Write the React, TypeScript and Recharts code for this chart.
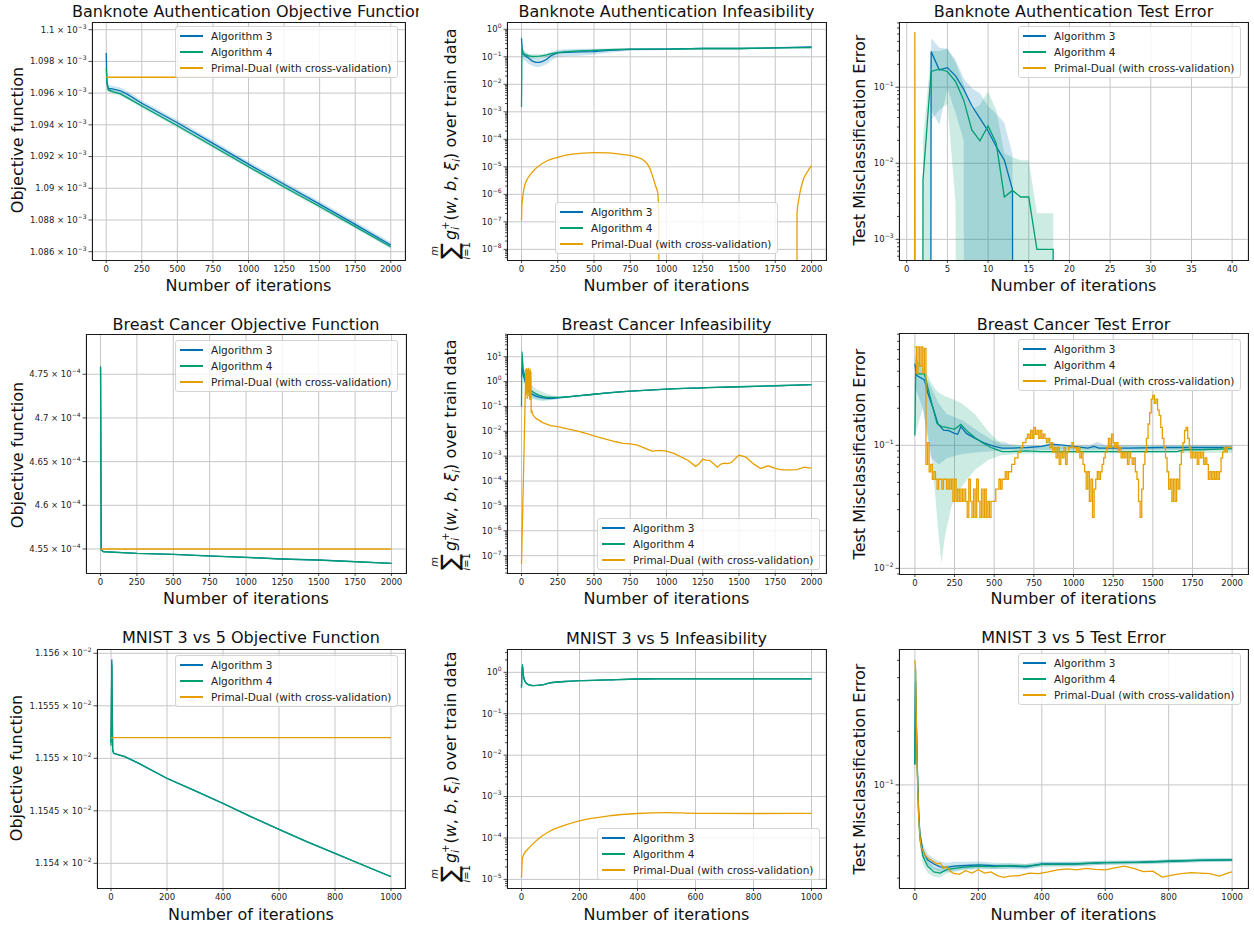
import React from 'react';
import { ComposedChart, Line, Area, XAxis, YAxis, CartesianGrid } from 'recharts';

const BLUE = '#0072B2';
const GREEN = '#009E73';
const ORANGE = '#E69F00';
// an exact 0 on a log axis: matplotlib sends it off the bottom of the plot
const ZERO = 1e-100;

const seriesNames = ['Algorithm 3', 'Algorithm 4', 'Primal-Dual (with cross-validation)'];
const seriesColors = [BLUE, GREEN, ORANGE];

const ticks2000 = [0, 250, 500, 750, 1000, 1250, 1500, 1750, 2000];
const ticks1000 = [0, 200, 400, 600, 800, 1000];
const ticks40 = [0, 5, 10, 15, 20, 25, 30, 35, 40];

// ---------- Banknote: objective ----------
const bankObjIters = [0, 5, 15, 50, 100, 150, 250, 500, 750, 1000, 1250, 1500, 1750, 2000];
const bankObjAlg3 = [1.09853e-3, 1.0967e-3, 1.0963e-3, 1.09625e-3, 1.09615e-3, 1.09592e-3, 1.09536e-3, 1.09413e-3, 1.09283e-3, 1.09152e-3, 1.09025e-3, 1.089e-3, 1.08772e-3, 1.08642e-3];
const bankObjAlg3Std = [1.4e-6, 5e-7, 2.2e-7, 2e-7, 2e-7, 2e-7, 1.8e-7, 1.8e-7, 1.8e-7, 1.8e-7, 1.8e-7, 1.8e-7, 1.8e-7, 1.8e-7];
const bankObjAlg4 = [1.0976e-3, 1.0966e-3, 1.0962e-3, 1.09608e-3, 1.09595e-3, 1.0957e-3, 1.09519e-3, 1.09394e-3, 1.09265e-3, 1.09136e-3, 1.09008e-3, 1.08885e-3, 1.08758e-3, 1.08631e-3];
const bankObjAlg4Std = [8e-7, 3e-7, 1.2e-7, 1.2e-7, 1.2e-7, 1.2e-7, 1.2e-7, 1.2e-7, 1.2e-7, 1.2e-7, 1.2e-7, 1.2e-7, 1.2e-7, 1.2e-7];
const bankObjPdIters = [0, 2000];
const bankObjPd = [1.097e-3, 1.097e-3];
const bankObjTicks = [1.086e-3, 1.088e-3, 1.09e-3, 1.092e-3, 1.094e-3, 1.096e-3, 1.098e-3, 1.1e-3];

// ---------- Banknote: infeasibility ----------
const bankInfIters = [0, 3, 10, 25, 50, 75, 100, 125, 150, 175, 200, 250, 300, 400, 500, 600, 750, 1000, 1250, 1500, 1750, 2000];
const bankInfAlg3 = [0.47, 0.25, 0.13, 0.11, 0.088, 0.07, 0.063, 0.063, 0.07, 0.081, 0.107, 0.142, 0.145, 0.15, 0.155, 0.17, 0.187, 0.19, 0.2, 0.2, 0.21, 0.228];
const bankInfAlg3Lo = [0.3, 0.12, 0.08, 0.07, 0.055, 0.047, 0.043, 0.043, 0.048, 0.055, 0.07, 0.1, 0.105, 0.11, 0.12, 0.14, 0.165, 0.175, 0.185, 0.185, 0.195, 0.21];
const bankInfAlg3Hi = [0.8, 0.5, 0.2, 0.15, 0.12, 0.1, 0.09, 0.088, 0.095, 0.11, 0.14, 0.18, 0.19, 0.195, 0.195, 0.2, 0.21, 0.21, 0.215, 0.215, 0.225, 0.245];
const bankInfAlg4 = [1.5e-3, 0.2, 0.13, 0.12, 0.108, 0.104, 0.104, 0.106, 0.11, 0.118, 0.128, 0.142, 0.15, 0.165, 0.172, 0.18, 0.19, 0.19, 0.2, 0.2, 0.21, 0.215];
const bankInfAlg4Lo = [1.2e-3, 0.12, 0.1, 0.095, 0.088, 0.085, 0.085, 0.088, 0.092, 0.1, 0.11, 0.125, 0.135, 0.15, 0.158, 0.167, 0.178, 0.18, 0.19, 0.19, 0.2, 0.205];
const bankInfAlg4Hi = [2e-3, 0.3, 0.18, 0.15, 0.13, 0.125, 0.125, 0.126, 0.13, 0.137, 0.147, 0.16, 0.168, 0.18, 0.187, 0.193, 0.2, 0.2, 0.21, 0.21, 0.22, 0.225];
const bankInfPdIters = [0, 3, 6, 12, 20, 35, 50, 75, 100, 170, 260, 350, 500, 600, 680, 790, 850, 880, 905, 925, 940, 947, 951, 1400, 1890, 1900, 1915, 1938, 1972, 2000];
const bankInfPd = [1.1e-7, 4e-7, 6e-7, 1.1e-6, 1.9e-6, 3.2e-6, 4.4e-6, 6.5e-6, 8.9e-6, 1.6e-5, 2.3e-5, 2.9e-5, 3.3e-5, 3.2e-5, 2.9e-5, 2.3e-5, 1.6e-5, 1.0e-5, 4.4e-6, 2e-6, 1.1e-6, 1.1e-7, ZERO, null, ZERO, 2e-7, 8e-7, 2.8e-6, 6.6e-6, 1.1e-5];
const bankInfTicks = [1e-8, 1e-7, 1e-6, 1e-5, 1e-4, 1e-3, 1e-2, 1e-1, 1];

// ---------- Banknote: test error ----------
const bankTestIters = [0, 1, 2, 3, 4, 5, 6, 7, 8, 9, 10, 11, 12, 13, 14, 15, 16, 17, 18, 19];
const bankTestAlg3 = [ZERO, ZERO, ZERO, 0.295, 0.169, 0.181, 0.141, 0.094, 0.057, 0.039, 0.0266, 0.0166, 0.011, 0.0045, ZERO, ZERO, ZERO, ZERO, ZERO, ZERO];
const bankTestAlg3Lo = [ZERO, ZERO, ZERO, 0.05, 0.032, 0.095, 0.046, 0.02, ZERO, ZERO, ZERO, ZERO, ZERO, ZERO, ZERO, ZERO, ZERO, ZERO, ZERO, ZERO];
const bankTestAlg3Hi = [ZERO, ZERO, ZERO, 0.44, 0.33, 0.32, 0.23, 0.13, 0.097, 0.083, 0.056, 0.045, 0.034, 0.013, ZERO, ZERO, ZERO, ZERO, ZERO, ZERO];
const bankTestAlg4 = [ZERO, ZERO, 0.006, 0.161, 0.173, 0.161, 0.119, 0.068, 0.0275, 0.0197, 0.031, 0.0183, 0.0036, 0.0044, 0.0036, 0.0036, 0.00074, 0.00074, 0.00074, ZERO];
const bankTestAlg4Lo = [ZERO, ZERO, ZERO, 0.037, 0.05, 0.06, 0.003, ZERO, ZERO, ZERO, ZERO, ZERO, ZERO, ZERO, ZERO, ZERO, ZERO, ZERO, ZERO, ZERO];
const bankTestAlg4Hi = [ZERO, ZERO, 0.02, 0.3, 0.3, 0.32, 0.21, 0.11, 0.05, 0.059, 0.088, 0.05, 0.0135, 0.012, 0.011, 0.011, 0.0022, 0.0022, 0.0022, ZERO];
const bankTestPdIters = [0, 1, 2];
const bankTestPd = [ZERO, 0.53, ZERO];
const bankTestTicks = [1e-3, 1e-2, 1e-1];

// ---------- Breast cancer: objective ----------
const bcObjIters = [0, 5, 20, 250, 500, 750, 1000, 1250, 1500, 1750, 2000];
const bcObjAlg3 = [4.7588e-4, 4.5489e-4, 4.547e-4, 4.545e-4, 4.5439e-4, 4.542e-4, 4.5405e-4, 4.5385e-4, 4.5374e-4, 4.5355e-4, 4.5336e-4];
const bcObjAlg3Std = [2.4e-6, 5e-8, 3e-8, 3e-8, 3e-8, 3e-8, 3e-8, 3e-8, 3e-8, 3e-8, 3e-8];
const bcObjAlg4 = [4.757e-4, 4.5487e-4, 4.5468e-4, 4.5449e-4, 4.5438e-4, 4.5419e-4, 4.5404e-4, 4.5384e-4, 4.5373e-4, 4.5354e-4, 4.5335e-4];
const bcObjPdIters = [0, 2000];
const bcObjPd = [4.55e-4, 4.55e-4];
const bcObjTicks = [4.55e-4, 4.6e-4, 4.65e-4, 4.7e-4, 4.75e-4];

// ---------- Breast cancer: infeasibility ----------
const bcInfIters = [0, 3, 10, 25, 50, 75, 100, 150, 200, 250, 300, 500, 750, 1000, 1250, 1500, 1750, 2000];
const bcInfAlg3 = [1.5, 3.5, 2.2, 1.0, 0.42, 0.31, 0.26, 0.22, 0.21, 0.22, 0.235, 0.31, 0.41, 0.5, 0.56, 0.62, 0.68, 0.75];
const bcInfAlg3Lo = [1.2, 2.5, 1.5, 0.7, 0.3, 0.23, 0.2, 0.18, 0.18, 0.2, 0.22, 0.29, 0.39, 0.48, 0.54, 0.6, 0.66, 0.72];
const bcInfAlg3Hi = [2, 5, 3, 1.4, 0.6, 0.42, 0.34, 0.27, 0.25, 0.245, 0.25, 0.33, 0.43, 0.52, 0.58, 0.64, 0.7, 0.78];
const bcInfAlg4 = [0.1, 16, 4, 1.5, 0.53, 0.4, 0.32, 0.25, 0.23, 0.23, 0.24, 0.31, 0.41, 0.5, 0.56, 0.62, 0.68, 0.75];
const bcInfAlg4Lo = [0.09, 10, 2, 0.7, 0.27, 0.2, 0.18, 0.16, 0.18, 0.2, 0.22, 0.29, 0.39, 0.48, 0.54, 0.6, 0.66, 0.72];
const bcInfAlg4Hi = [0.11, 25, 7, 2.5, 1.1, 0.7, 0.5, 0.37, 0.29, 0.26, 0.26, 0.33, 0.43, 0.52, 0.58, 0.64, 0.7, 0.78];
const bcInfPdIters = [0, 30, 33, 36, 39, 42, 45, 48, 51, 54, 57, 60, 63, 65, 67, 70, 75, 80, 90, 100, 125, 150, 200, 250, 300, 350, 400, 450, 500, 550, 600, 650, 700, 750, 800, 850, 900, 950, 1000, 1050, 1100, 1150, 1200, 1225, 1250, 1275, 1300, 1325, 1350, 1375, 1400, 1425, 1450, 1475, 1500, 1525, 1550, 1600, 1650, 1700, 1750, 1800, 1850, 1900, 1950, 2000];
const bcInfPd = [4.6e-8, 3.2, 0.3, 3.5, 0.2, 3.0, 0.5, 3.6, 0.25, 2.8, 0.18, 3.3, 0.6, 2.5, 0.056, 0.072, 0.05, 0.045, 0.038, 0.033, 0.027, 0.022, 0.017, 0.0154, 0.013, 0.0115, 0.0097, 0.008, 0.0065, 0.0055, 0.0045, 0.0038, 0.0033, 0.0031, 0.0028, 0.0021, 0.0016, 0.0017, 0.0016, 0.0013, 0.00093, 0.00067, 0.00039, 0.0005, 0.00075, 0.0007, 0.00067, 0.0005, 0.00036, 0.00048, 0.00052, 0.0005, 0.00057, 0.0008, 0.0011, 0.001, 0.00089, 0.00049, 0.00032, 0.00041, 0.00032, 0.00028, 0.00028, 0.00029, 0.00036, 0.00033];
const bcInfTicks = [1e-7, 1e-6, 1e-5, 1e-4, 1e-3, 1e-2, 1e-1, 1, 10];

// ---------- Breast cancer: test error ----------
const bcTestAlg3Iters = [0, 10, 60, 80, 115, 145, 180, 210, 250, 270, 290, 325, 380, 440, 500, 550, 610, 710, 800, 860, 920, 1000, 1090, 1130, 1160, 1240, 1350, 1550, 1750, 2000];
const bcTestAlg3 = [0.46, 0.37, 0.34, 0.27, 0.2, 0.15, 0.133, 0.132, 0.125, 0.123, 0.142, 0.125, 0.114, 0.104, 0.098, 0.095, 0.095, 0.096, 0.098, 0.102, 0.101, 0.098, 0.095, 0.098, 0.095, 0.095, 0.095, 0.096, 0.096, 0.096];
const bcTestAlg3BandIters = [0, 50, 100, 150, 200, 250, 300, 400, 500, 560, 600, 700, 1100, 1150, 1200, 2000];
const bcTestAlg3Lo = [0.3, 0.2, 0.08, 0.07, 0.078, 0.082, 0.085, 0.088, 0.09, 0.091, 0.092, 0.092, 0.092, 0.092, 0.092, 0.092];
const bcTestAlg3Hi = [0.55, 0.4, 0.3, 0.22, 0.18, 0.17, 0.16, 0.13, 0.108, 0.107, 0.102, 0.1, 0.1, 0.107, 0.1, 0.1];
const bcTestAlg4Iters = [0, 5, 60, 80, 110, 140, 170, 200, 250, 290, 330, 380, 430, 480, 520, 550, 600, 700, 800, 1000, 1200, 1500, 1650, 1700, 1800, 2000];
const bcTestAlg4 = [0.12, 0.38, 0.38, 0.3, 0.21, 0.15, 0.142, 0.14, 0.135, 0.148, 0.13, 0.115, 0.104, 0.096, 0.092, 0.089, 0.089, 0.09, 0.089, 0.089, 0.089, 0.089, 0.089, 0.092, 0.092, 0.094];
const bcTestAlg4BandIters = [0, 50, 100, 126, 147, 168, 189, 231, 294, 378, 462, 546, 700, 2000];
const bcTestAlg4Lo = [0.12, 0.2, 0.09, 0.043, 0.02, 0.011, 0.018, 0.032, 0.046, 0.063, 0.076, 0.083, 0.086, 0.087];
const bcTestAlg4Hi = [0.5, 0.45, 0.33, 0.29, 0.27, 0.26, 0.25, 0.24, 0.22, 0.18, 0.13, 0.102, 0.098, 0.1];
// primal-dual test error, logged every 10 iterations (rows of 100 iterations)
const bcTestPdStep = 10;
const bcTestPd = [
  0.632, 0.386, 0.632, 0.439, 0.632, 0.386, 0.614, 0.070, 0.105, 0.061,
  0.070, 0.053, 0.061, 0.053, 0.044, 0.053, 0.053, 0.044, 0.053, 0.053,
  0.044, 0.053, 0.044, 0.053, 0.035, 0.053, 0.035, 0.044, 0.035, 0.044,
  0.035, 0.044, 0.035, 0.026, 0.053, 0.035, 0.026, 0.044, 0.026, 0.053,
  0.035, 0.026, 0.044, 0.026, 0.044, 0.026, 0.035, 0.026, 0.035, 0.035,
  0.035, 0.044, 0.044, 0.053, 0.044, 0.053, 0.053, 0.061, 0.053, 0.061,
  0.061, 0.070, 0.070, 0.079, 0.079, 0.088, 0.088, 0.096, 0.105, 0.105,
  0.114, 0.123, 0.114, 0.132, 0.114, 0.140, 0.123, 0.132, 0.114, 0.132,
  0.114, 0.123, 0.114, 0.105, 0.114, 0.096, 0.105, 0.088, 0.096, 0.079,
  0.096, 0.070, 0.088, 0.079, 0.096, 0.070, 0.088, 0.096, 0.096, 0.105,
  0.096, 0.096, 0.088, 0.096, 0.079, 0.088, 0.070, 0.061, 0.044, 0.061,
  0.035, 0.053, 0.026, 0.044, 0.053, 0.061, 0.053, 0.061, 0.070, 0.079,
  0.088, 0.096, 0.114, 0.096, 0.123, 0.105, 0.096, 0.105, 0.088, 0.096,
  0.079, 0.088, 0.079, 0.088, 0.070, 0.088, 0.079, 0.070, 0.079, 0.061,
  0.053, 0.035, 0.026, 0.044, 0.070, 0.088, 0.114, 0.149, 0.184, 0.237,
  0.254, 0.219, 0.237, 0.193, 0.175, 0.140, 0.114, 0.096, 0.079, 0.061,
  0.044, 0.053, 0.035, 0.053, 0.035, 0.053, 0.044, 0.070, 0.088, 0.105,
  0.132, 0.140, 0.114, 0.096, 0.079, 0.088, 0.079, 0.088, 0.070, 0.088,
  0.079, 0.088, 0.070, 0.079, 0.070, 0.053, 0.061, 0.053, 0.061, 0.053,
  0.061, 0.053, 0.061, 0.079, 0.088, 0.096, 0.088, 0.096, 0.096, 0.096,
  0.096,
];
const bcTestTicks = [1e-2, 1e-1];

// ---------- MNIST: objective ----------
const mnObjIters = [0, 3, 6, 10, 50, 100, 200, 300, 400, 500, 600, 700, 800, 900, 1000];
const mnObjAlg3 = [1.15515e-2, 1.15594e-2, 1.15508e-2, 1.155048e-2, 1.155016e-2, 1.154952e-2, 1.15481e-2, 1.154692e-2, 1.154571e-2, 1.154444e-2, 1.154324e-2, 1.154206e-2, 1.154095e-2, 1.153984e-2, 1.153873e-2];
const mnObjAlg4 = [1.15512e-2, 1.15589e-2, 1.15507e-2, 1.155046e-2, 1.155014e-2, 1.15495e-2, 1.154808e-2, 1.15469e-2, 1.15457e-2, 1.154443e-2, 1.154323e-2, 1.154205e-2, 1.154094e-2, 1.153983e-2, 1.153872e-2];
const mnObjPdIters = [0, 1000];
const mnObjPd = [1.155197e-2, 1.155197e-2];
const mnObjTicks = [1.154e-2, 1.1545e-2, 1.155e-2, 1.1555e-2, 1.156e-2];

// ---------- MNIST: infeasibility ----------
const mnInfIters = [0, 3, 6, 10, 20, 40, 70, 100, 150, 200, 300, 400, 500, 600, 800, 1000];
const mnInfAlg3 = [0.45, 1.5, 0.9, 0.65, 0.52, 0.48, 0.5, 0.56, 0.6, 0.63, 0.66, 0.69, 0.7, 0.7, 0.7, 0.7];
const mnInfAlg4 = [0.42, 1.55, 0.9, 0.65, 0.52, 0.48, 0.5, 0.56, 0.6, 0.63, 0.66, 0.69, 0.7, 0.7, 0.7, 0.7];
const mnInfPd = [1.1e-5, 3.2e-5, 3.7e-5, 4.3e-5, 5.2e-5, 7.3e-5, 1.1e-4, 1.5e-4, 2.05e-4, 2.6e-4, 3.4e-4, 3.9e-4, 4.1e-4, 3.95e-4, 3.9e-4, 3.95e-4];
const mnInfTicks = [1e-5, 1e-4, 1e-3, 1e-2, 1e-1, 1];

// ---------- MNIST: test error ----------
const mnTestIters = [0, 2, 5, 8, 12, 16, 25, 40, 60, 80, 100, 125, 150, 200, 250, 300, 350, 400, 500, 600, 700, 800, 900, 1000];
const mnTestAlg3 = [0.13, 0.38, 0.2, 0.12, 0.07, 0.053, 0.043, 0.038, 0.036, 0.0347, 0.0345, 0.035, 0.0352, 0.0356, 0.0352, 0.035, 0.0347, 0.036, 0.036, 0.0366, 0.0368, 0.0373, 0.0377, 0.038];
const mnTestAlg3Lo = [0.12, 0.3, 0.17, 0.1, 0.062, 0.048, 0.039, 0.035, 0.0335, 0.0325, 0.0325, 0.033, 0.0335, 0.034, 0.0338, 0.0337, 0.0335, 0.0348, 0.0349, 0.0356, 0.0359, 0.0364, 0.0368, 0.0372];
const mnTestAlg3Hi = [0.14, 0.45, 0.24, 0.14, 0.078, 0.058, 0.047, 0.041, 0.0387, 0.037, 0.0366, 0.0371, 0.037, 0.0372, 0.0366, 0.0363, 0.036, 0.0372, 0.0371, 0.0376, 0.0377, 0.0382, 0.0386, 0.0388];
const mnTestAlg4 = [0.13, 0.45, 0.22, 0.12, 0.068, 0.05, 0.04, 0.035, 0.0325, 0.032, 0.0335, 0.034, 0.0345, 0.035, 0.0348, 0.0352, 0.035, 0.0358, 0.036, 0.0366, 0.0368, 0.0373, 0.0378, 0.038];
const mnTestAlg4Lo = [0.12, 0.38, 0.19, 0.1, 0.06, 0.045, 0.036, 0.032, 0.0305, 0.0302, 0.0318, 0.0325, 0.0332, 0.0338, 0.0337, 0.0341, 0.034, 0.0348, 0.035, 0.0357, 0.0359, 0.0364, 0.0369, 0.0372];
const mnTestAlg4Hi = [0.14, 0.5, 0.25, 0.14, 0.076, 0.055, 0.044, 0.038, 0.0345, 0.0338, 0.0352, 0.0355, 0.0358, 0.0362, 0.0359, 0.0363, 0.036, 0.0368, 0.037, 0.0375, 0.0377, 0.0382, 0.0387, 0.0388];
const mnTestPdIters = [0, 2, 5, 8, 12, 16, 20, 25, 30, 40, 50, 60, 70, 80, 90, 100, 110, 120, 140, 160, 180, 200, 220, 240, 260, 280, 300, 330, 360, 390, 420, 450, 480, 510, 540, 570, 600, 630, 660, 690, 720, 750, 780, 810, 840, 870, 900, 930, 960, 990, 1000];
const mnTestPd = [0.5, 0.45, 0.2, 0.11, 0.066, 0.051, 0.045, 0.043, 0.041, 0.039, 0.038, 0.037, 0.036, 0.0365, 0.034, 0.0348, 0.033, 0.032, 0.0315, 0.033, 0.032, 0.0334, 0.032, 0.0325, 0.031, 0.0303, 0.0308, 0.031, 0.032, 0.0318, 0.0325, 0.0334, 0.0338, 0.0334, 0.034, 0.0336, 0.0334, 0.0342, 0.035, 0.034, 0.0326, 0.0328, 0.0304, 0.0312, 0.0318, 0.0322, 0.032, 0.0318, 0.0308, 0.0322, 0.0325];
const mnTestTicks = [1e-1];

// ---------- helpers ----------
const pts = (xs: number[], ys: (number | null)[]) => xs.map((x, i) => ({ x, y: ys[i] }));
const band = (xs: number[], lo: number[], hi: number[]) => xs.map((x, i) => ({ x, band: [lo[i], hi[i]] }));
const stdBand = (xs: number[], mean: number[], sd: number[]) =>
  xs.map((x, i) => ({ x, band: [mean[i] - sd[i], mean[i] + sd[i]] }));

function logMinors(lo: number, hi: number) {
  const out: number[] = [];
  for (let e = Math.floor(Math.log10(lo)); e <= Math.ceil(Math.log10(hi)); e++) {
    for (let m = 2; m <= 9; m++) {
      const v = m * Math.pow(10, e);
      if (v >= lo && v <= hi) out.push(v);
    }
  }
  return out;
}

const FONT = 'DejaVu Sans, Verdana, sans-serif';
const YW = 80; // room for y tick labels, left of each plot
const TOP = 8;
const RIGHT = 4;
const XH = 24;

type LineSpec = { data: any[]; color: string; curve?: 'linear' | 'monotone' | 'stepAfter' };
type BandSpec = { data: any[]; color: string };

interface PanelSpec {
  box: [number, number, number, number];
  title: string;
  titleTop: number;
  clip: [number, number];
  xDomain: [number, number];
  xTicks: number[];
  xLabelTop: number;
  yDomain: [number, number];
  yTicks: number[];
  yLog: boolean;
  yExp?: number;
  yLabel: React.ReactNode;
  yLabelX: number;
  yLabelY: number;
  bands: BandSpec[];
  lines: LineSpec[];
  legend: [number, number];
}

const SumLabel = () => (
  <span style={{ display: 'inline-flex', alignItems: 'center' }}>
    <span style={{ display: 'inline-flex', flexDirection: 'column', alignItems: 'center', lineHeight: 1, marginRight: 2 }}>
      <i style={{ fontSize: 10 }}>m</i>
      <span style={{ fontSize: 24, lineHeight: 0.9 }}>∑</span>
      <span style={{ fontSize: 10 }}><i>i</i>=1</span>
    </span>
    <i>g</i>
    <span style={{ display: 'inline-flex', flexDirection: 'column', fontSize: 10, lineHeight: 1, marginRight: 1 }}>
      <span>+</span>
      <i>i</i>
    </span>
    <span>(<i>w</i>, <i>b</i>, <i>ξ</i><i style={{ fontSize: 10, position: 'relative', top: 4 }}>i</i>) over train data</span>
  </span>
);

function Panel({ s }: { s: PanelSpec }) {
  const [x0, y0, x1, y1] = s.box;
  const w = x1 - x0;
  const h = y1 - y0;
  const majors = new Set(s.yTicks);
  const allTicks = s.yLog ? [...s.yTicks, ...logMinors(s.yDomain[0], s.yDomain[1])] : s.yTicks;

  const renderYTick = (props: any) => {
    const { y, payload } = props;
    const v = payload.value;
    const major = majors.has(v);
    let label: React.ReactNode = null;
    if (major) {
      if (s.yLog) {
        const e = Math.round(Math.log10(v));
        label = (
          <>
            <tspan>10</tspan>
            <tspan dy={-4} fontSize={6}>{e < 0 ? '−' + -e : String(e)}</tspan>
          </>
        );
      } else {
        const exp = s.yExp ?? 0;
        const mant = parseFloat((v / Math.pow(10, exp)).toFixed(5)).toString();
        label = (
          <>
            <tspan>{mant} × 10</tspan>
            <tspan dy={-4} fontSize={6}>{'−' + -exp}</tspan>
          </>
        );
      }
    }
    return (
      <g>
        <line x1={YW - (major ? 3.5 : 2)} x2={YW} y1={y} y2={y} stroke="#222" strokeWidth={0.8} />
        {major && (
          <text x={YW - 5.5} y={y} dy="0.34em" textAnchor="end" fontSize={8.5} fill="#222" fontFamily={FONT}>
            {label}
          </text>
        )}
      </g>
    );
  };

  const cx = (x0 + x1) / 2;
  return (
    <>
      <div style={{ position: 'absolute', left: x0 - YW, top: y0 - TOP }}>
        <ComposedChart width={w + YW + RIGHT} height={h + TOP + XH} margin={{ top: TOP, right: RIGHT, bottom: 0, left: 0 }}>
          <CartesianGrid stroke="#c6c6c6" strokeWidth={1} horizontalValues={s.yTicks} />
          <XAxis
            type="number"
            dataKey="x"
            domain={s.xDomain}
            ticks={s.xTicks}
            allowDataOverflow
            interval={0}
            height={XH}
            axisLine={false}
            tickSize={3}
            tickMargin={3}
            tickLine={{ stroke: '#222', strokeWidth: 0.8 }}
            tick={{ fontSize: 8.5, fill: '#222', fontFamily: FONT }}
          />
          <YAxis
            type="number"
            scale={s.yLog ? 'log' : 'linear'}
            domain={s.yDomain}
            ticks={allTicks}
            allowDataOverflow
            interval={0}
            width={YW}
            axisLine={false}
            tickLine={false}
            tick={renderYTick}
          />
          {s.bands.map((b, i) => (
            <Area
              key={'b' + i}
              data={b.data}
              dataKey="band"
              type="linear"
              stroke="none"
              fill={b.color}
              fillOpacity={0.2}
              dot={false}
              activeDot={false}
              isAnimationActive={false}
            />
          ))}
          {s.lines.map((l, i) => (
            <Line
              key={'l' + i}
              data={l.data}
              dataKey="y"
              type={l.curve ?? 'linear'}
              stroke={l.color}
              strokeWidth={1.3}
              dot={false}
              activeDot={false}
              connectNulls={false}
              isAnimationActive={false}
            />
          ))}
        </ComposedChart>
      </div>
      {/* axes frame */}
      <div
        style={{
          position: 'absolute',
          left: x0,
          top: y0,
          width: w + 1,
          height: h + 1,
          border: '1px solid #1a1a1a',
          boxSizing: 'border-box',
          pointerEvents: 'none',
        }}
      />
      {/* title, clipped to its column */}
      <div style={{ position: 'absolute', left: s.clip[0], top: 0, width: s.clip[1] - s.clip[0], height: 928, overflow: 'hidden', pointerEvents: 'none' }}>
        <div
          style={{
            position: 'absolute',
            left: cx - 300 - s.clip[0],
            top: s.titleTop,
            width: 600,
            textAlign: 'center',
            fontSize: 16,
            lineHeight: '16px',
            whiteSpace: 'nowrap',
            color: '#111',
          }}
        >
          {s.title}
        </div>
      </div>
      <div style={{ position: 'absolute', left: cx - 200, top: s.xLabelTop, width: 400, textAlign: 'center', fontSize: 16, lineHeight: '16px', color: '#111' }}>
        Number of iterations
      </div>
      <div
        style={{
          position: 'absolute',
          left: s.yLabelX,
          top: s.yLabelY,
          transform: 'translate(-50%, -50%) rotate(-90deg)',
          fontSize: 16,
          lineHeight: 1,
          whiteSpace: 'nowrap',
          color: '#111',
        }}
      >
        {s.yLabel}
      </div>
      <div
        style={{
          position: 'absolute',
          left: s.legend[0],
          top: s.legend[1],
          border: '1px solid #d4d4d4',
          borderRadius: 3,
          background: 'rgba(255,255,255,0.8)',
          padding: '1px 6px 1px 4px',
          fontSize: 10.5,
          color: '#222',
        }}
      >
        {seriesNames.map((n, i) => (
          <div key={n} style={{ display: 'flex', alignItems: 'center', height: 16 }}>
            <span style={{ display: 'inline-block', width: 23, height: 2, background: seriesColors[i], marginRight: 8 }} />
            <span style={{ whiteSpace: 'nowrap' }}>{n}</span>
          </div>
        ))}
      </div>
    </>
  );
}

const COL1: [number, number] = [0, 419];
const COL2: [number, number] = [419, 838];
const COL3: [number, number] = [838, 1254];

const panels: PanelSpec[] = [
  {
    box: [92, 22, 405, 260],
    title: 'Banknote Authentication Objective Function',
    titleTop: 3.5,
    clip: COL1,
    xDomain: [-100, 2100],
    xTicks: ticks2000,
    xLabelTop: 278,
    yDomain: [1.085476e-3, 1.100486e-3],
    yTicks: bankObjTicks,
    yLog: false,
    yExp: -3,
    yLabel: 'Objective function',
    yLabelX: 18,
    yLabelY: 140,
    bands: [
      { data: stdBand(bankObjIters, bankObjAlg3, bankObjAlg3Std), color: BLUE },
      { data: stdBand(bankObjIters, bankObjAlg4, bankObjAlg4Std), color: GREEN },
    ],
    lines: [
      { data: pts(bankObjIters, bankObjAlg3), color: BLUE },
      { data: pts(bankObjIters, bankObjAlg4), color: GREEN },
      { data: pts(bankObjPdIters, bankObjPd), color: ORANGE },
    ],
    legend: [175, 26],
  },
  {
    box: [507, 22, 826, 260],
    title: 'Banknote Authentication Infeasibility',
    titleTop: 4,
    clip: COL2,
    xDomain: [-100, 2100],
    xTicks: ticks2000,
    xLabelTop: 278,
    yDomain: [4.1e-9, 1.84],
    yTicks: bankInfTicks,
    yLog: true,
    yLabel: <SumLabel />,
    yLabelX: 448,
    yLabelY: 144,
    bands: [
      { data: band(bankInfIters, bankInfAlg3Lo, bankInfAlg3Hi), color: BLUE },
      { data: band(bankInfIters, bankInfAlg4Lo, bankInfAlg4Hi), color: GREEN },
    ],
    lines: [
      { data: pts(bankInfIters, bankInfAlg3), color: BLUE },
      { data: pts(bankInfIters, bankInfAlg4), color: GREEN },
      { data: pts(bankInfPdIters, bankInfPd), color: ORANGE, curve: 'monotone' },
    ],
    legend: [555, 202],
  },
  {
    box: [899, 22, 1248, 260],
    title: 'Banknote Authentication Test Error',
    titleTop: 3.5,
    clip: COL3,
    xDomain: [-0.95, 41.95],
    xTicks: ticks40,
    xLabelTop: 278,
    yDomain: [5.35e-4, 0.72],
    yTicks: bankTestTicks,
    yLog: true,
    yLabel: 'Test Misclassification Error',
    yLabelX: 860,
    yLabelY: 140,
    bands: [
      { data: band(bankTestIters, bankTestAlg3Lo, bankTestAlg3Hi), color: BLUE },
      { data: band(bankTestIters, bankTestAlg4Lo, bankTestAlg4Hi), color: GREEN },
    ],
    lines: [
      { data: pts(bankTestIters, bankTestAlg3), color: BLUE },
      { data: pts(bankTestIters, bankTestAlg4), color: GREEN },
      { data: pts(bankTestPdIters, bankTestPd), color: ORANGE },
    ],
    legend: [1018, 26],
  },
  {
    box: [86, 334, 406, 573],
    title: 'Breast Cancer Objective Function',
    titleTop: 316.5,
    clip: COL1,
    xDomain: [-100, 2100],
    xTicks: ticks2000,
    xLabelTop: 591,
    yDomain: [4.5225e-4, 4.7961e-4],
    yTicks: bcObjTicks,
    yLog: false,
    yExp: -4,
    yLabel: 'Objective function',
    yLabelX: 18,
    yLabelY: 455,
    bands: [{ data: stdBand(bcObjIters, bcObjAlg3, bcObjAlg3Std), color: BLUE }],
    lines: [
      { data: pts(bcObjIters, bcObjAlg3), color: BLUE },
      { data: pts(bcObjIters, bcObjAlg4), color: GREEN },
      { data: pts(bcObjPdIters, bcObjPd), color: ORANGE },
    ],
    legend: [175, 340],
  },
  {
    box: [507, 334, 826, 573],
    title: 'Breast Cancer Infeasibility',
    titleTop: 316.5,
    clip: COL2,
    xDomain: [-100, 2100],
    xTicks: ticks2000,
    xLabelTop: 591,
    yDomain: [2.0e-8, 82],
    yTicks: bcInfTicks,
    yLog: true,
    yLabel: <SumLabel />,
    yLabelX: 448,
    yLabelY: 455,
    bands: [
      { data: band(bcInfIters, bcInfAlg3Lo, bcInfAlg3Hi), color: BLUE },
      { data: band(bcInfIters, bcInfAlg4Lo, bcInfAlg4Hi), color: GREEN },
    ],
    lines: [
      { data: pts(bcInfIters, bcInfAlg3), color: BLUE, curve: 'monotone' },
      { data: pts(bcInfIters, bcInfAlg4), color: GREEN, curve: 'monotone' },
      { data: pts(bcInfPdIters, bcInfPd), color: ORANGE },
    ],
    legend: [597, 518],
  },
  {
    box: [899, 333, 1248, 574],
    title: 'Breast Cancer Test Error',
    titleTop: 316.5,
    clip: COL3,
    xDomain: [-100, 2100],
    xTicks: ticks2000,
    xLabelTop: 591,
    yDomain: [0.009, 0.818],
    yTicks: bcTestTicks,
    yLog: true,
    yLabel: 'Test Misclassification Error',
    yLabelX: 860,
    yLabelY: 454,
    bands: [
      { data: band(bcTestAlg3BandIters, bcTestAlg3Lo, bcTestAlg3Hi), color: BLUE },
      { data: band(bcTestAlg4BandIters, bcTestAlg4Lo, bcTestAlg4Hi), color: GREEN },
    ],
    lines: [
      { data: pts(bcTestAlg3Iters, bcTestAlg3), color: BLUE },
      { data: pts(bcTestAlg4Iters, bcTestAlg4), color: GREEN },
      { data: pts(bcTestPd.map((_, i) => i * bcTestPdStep), bcTestPd), color: ORANGE, curve: 'stepAfter' },
    ],
    legend: [1018, 339],
  },
  {
    box: [97, 649, 405, 888],
    title: 'MNIST 3 vs 5 Objective Function',
    titleTop: 630,
    clip: COL1,
    xDomain: [-50, 1050],
    xTicks: ticks1000,
    xLabelTop: 906.5,
    yDomain: [1.153765e-2, 1.156041e-2],
    yTicks: mnObjTicks,
    yLog: false,
    yExp: -2,
    yLabel: 'Objective function',
    yLabelX: 17,
    yLabelY: 768,
    bands: [],
    lines: [
      { data: pts(mnObjIters, mnObjAlg3), color: BLUE },
      { data: pts(mnObjIters, mnObjAlg4), color: GREEN },
      { data: pts(mnObjPdIters, mnObjPd), color: ORANGE },
    ],
    legend: [175, 655],
  },
  {
    box: [507, 649, 826, 888],
    title: 'MNIST 3 vs 5 Infeasibility',
    titleTop: 631,
    clip: COL2,
    xDomain: [-50, 1050],
    xTicks: ticks1000,
    xLabelTop: 906.5,
    yDomain: [6.2e-6, 3.66],
    yTicks: mnInfTicks,
    yLog: true,
    yLabel: <SumLabel />,
    yLabelX: 448,
    yLabelY: 767,
    bands: [],
    lines: [
      { data: pts(mnInfIters, mnInfAlg3), color: BLUE, curve: 'monotone' },
      { data: pts(mnInfIters, mnInfAlg4), color: GREEN, curve: 'monotone' },
      { data: pts(mnInfIters, mnInfPd), color: ORANGE, curve: 'monotone' },
    ],
    legend: [597, 828],
  },
  {
    box: [899, 649, 1248, 888],
    title: 'MNIST 3 vs 5 Test Error',
    titleTop: 630,
    clip: COL3,
    xDomain: [-50, 1050],
    xTicks: ticks1000,
    xLabelTop: 906.5,
    yDomain: [0.0264, 0.579],
    yTicks: mnTestTicks,
    yLog: true,
    yLabel: 'Test Misclassification Error',
    yLabelX: 860,
    yLabelY: 769,
    bands: [
      { data: band(mnTestIters, mnTestAlg3Lo, mnTestAlg3Hi), color: BLUE },
      { data: band(mnTestIters, mnTestAlg4Lo, mnTestAlg4Hi), color: GREEN },
    ],
    lines: [
      { data: pts(mnTestIters, mnTestAlg3), color: BLUE },
      { data: pts(mnTestIters, mnTestAlg4), color: GREEN },
      { data: pts(mnTestPdIters, mnTestPd), color: ORANGE },
    ],
    legend: [1018, 653],
  },
];

export default function App() {
  return (
    <div
      style={{
        position: 'absolute',
        left: 0,
        top: 0,
        width: 1254,
        height: 928,
        background: '#fff',
        overflow: 'hidden',
        fontFamily: FONT,
      }}
    >
      {panels.map((p) => (
        <Panel key={p.title} s={p} />
      ))}
    </div>
  );
}
